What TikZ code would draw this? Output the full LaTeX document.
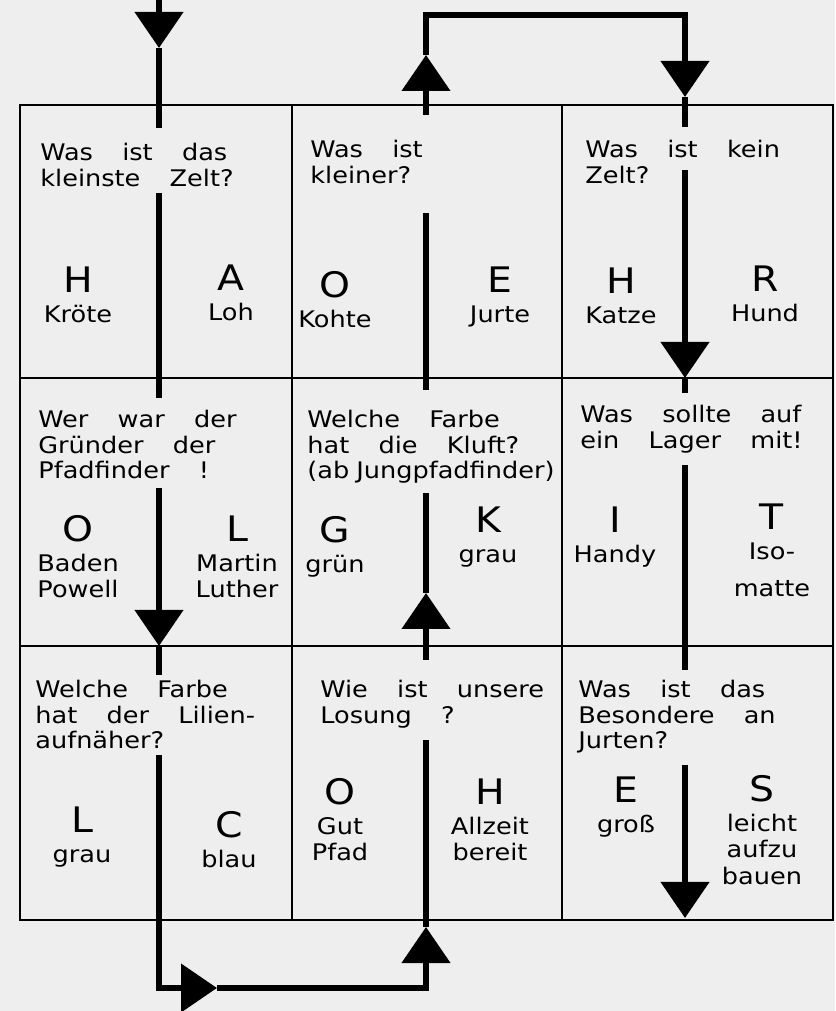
\documentclass[tikz,border=0pt]{standalone}
\usepackage{fontspec}
\setmainfont{DejaVu Sans}[WordSpace=3.6, FakeStretch=1.12]
\usetikzlibrary{arrows.meta}
\definecolor{paper}{RGB}{238,238,238}
\newcommand{\ansletter}[1]{{\fontsize{20}{22}\selectfont #1}}

\begin{document}
\begin{tikzpicture}[
    cellline/.style={draw, line width=1.2pt},
    trail/.style={line width=3.4pt, line join=miter},
    trailtip/.style={trail, -{Triangle[width=0.95cm,length=0.72cm]}},
    question/.style={anchor=north west, align=left, inner sep=0pt,
        font=\fontsize{13}{14.5}\selectfont},
    answer/.style={align=center, inner sep=0pt, font=\fontsize{13}{15}\selectfont}
]

% Paper
\fill[paper] (0,0) rectangle (16.7,20.22);
\useasboundingbox (0,0) rectangle (16.7,20.22);

% Grid of nine cells
\draw[cellline] (0.4,1.82) rectangle (16.66,18.12);
\draw[cellline] (5.84,1.82) -- (5.84,18.12);
\draw[cellline] (11.24,1.82) -- (11.24,18.12);
\draw[cellline] (0.4,12.66) -- (16.66,12.66);
\draw[cellline] (0.4,7.30) -- (16.66,7.30);

% Row 1
\node[question] (q11) at (0.8,17.36) {Was ist das\\kleinste Zelt?};
\node[answer] (a11h) at (1.56,14.32) {\ansletter{H}\\[2pt]Kröte};
\node[answer] (a11a) at (4.62,14.36) {\ansletter{A}\\[2pt]Loh};

\node[question] (q12) at (6.2,17.42) {Was ist\\kleiner?};
\node[answer] (a12o) at (6.7,14.22) {\ansletter{O}\\[2pt]Kohte};
\node[answer] (a12e) at (10.0,14.28) {\ansletter{E}\\[2pt]Jurte};

\node[question] (q13) at (11.7,17.42) {Was ist kein\\Zelt?};
\node[answer] (a13h) at (12.42,14.3) {\ansletter{H}\\[2pt]Katze};
\node[answer] (a13r) at (15.3,14.34) {\ansletter{R}\\[2pt]Hund};

% Row 2
\node[question] (q21) at (0.76,12.02) {Wer war der\\Gründer der\\Pfadfinder !};
\node[answer] (a21o) at (1.56,9.08) {\ansletter{O}\\[2pt]Baden\\Powell};
\node[answer] (a21l) at (4.74,9.08) {\ansletter{L}\\[2pt]Martin\\Luther};

\node[question] (q22) at (6.14,12.02) {Welche Farbe\\hat die Kluft?\\(ab\hspace{4pt}Jungpfadfinder)};
\node[answer] (a22g) at (6.7,9.28) {\ansletter{G}\\[2pt]grün};
\node[answer] (a22k) at (9.76,9.48) {\ansletter{K}\\[2pt]grau};

\node[question] (q23) at (11.6,12.12) {Was sollte auf\\ein Lager mit!};
\node[answer] (a23i) at (12.3,9.48) {\ansletter{I}\\[2pt]Handy};
\node[answer] (a23t) at (15.44,9.22) {\ansletter{T}\\[2pt]Iso-\\[6pt]matte};

% Row 3
\node[question] (q31) at (0.7,6.62) {Welche Farbe\\hat der Lilien-\\aufnäher?};
\node[answer] (a31l) at (1.64,3.48) {\ansletter{L}\\[2pt]grau};
\node[answer] (a31c) at (4.58,3.42) {\ansletter{C}\\[2pt]blau};

\node[question] (q32) at (6.4,6.62) {Wie ist unsere\\Losung ?};
\node[answer] (a32o) at (6.8,3.82) {\ansletter{O}\\[2pt]Gut\\Pfad};
\node[answer] (a32h) at (9.8,3.82) {\ansletter{H}\\[2pt]Allzeit\\bereit};

\node[question] (q33) at (11.56,6.62) {Was ist das\\Besondere an\\Jurten?};
\node[answer] (a33e) at (12.52,4.08) {\ansletter{E}\\[2pt]groß};
\node[answer] (a33s) at (15.24,3.62) {\ansletter{S}\\[2pt]leicht\\aufzu\\bauen};

% Left track, going down
\coordinate (inTop) at (3.18,20.22);
\coordinate (inTip) at (3.18,19.26);
\coordinate (inA) at (3.18,17.66);
\coordinate (inB) at (3.18,16.36);
\coordinate (inC) at (3.18,12.26);
\coordinate (inD) at (3.18,10.46);
\coordinate (inTipB) at (3.18,7.30);
\coordinate (inE) at (3.18,6.72);
\coordinate (inF) at (3.18,5.12);
\coordinate (cornerBL) at (3.18,0.46);
\coordinate (tipR) at (4.34,0.46);

% Middle track, going up
\coordinate (cornerBR) at (8.52,0.46);
\coordinate (tipU1) at (8.52,1.68);
\coordinate (midA) at (8.52,5.42);
\coordinate (midB) at (8.52,7.02);
\coordinate (tipU2) at (8.52,8.36);
\coordinate (midC) at (8.52,10.36);
\coordinate (midD) at (8.52,12.42);
\coordinate (midE) at (8.52,15.96);
\coordinate (midF) at (8.52,17.92);
\coordinate (tipU3) at (8.52,19.12);
\coordinate (cornerTL) at (8.52,19.92);

% Right track, going down
\coordinate (cornerTR) at (13.7,19.92);
\coordinate (tipD1) at (13.7,18.28);
\coordinate (rgtA) at (13.7,17.68);
\coordinate (rgtB) at (13.7,16.82);
\coordinate (tipD2) at (13.7,12.66);
\coordinate (rgtC) at (13.7,12.36);
\coordinate (rgtD) at (13.7,10.92);
\coordinate (rgtE) at (13.7,6.82);
\coordinate (rgtF) at (13.7,4.92);
\coordinate (outTip) at (13.7,1.86);

\draw[trailtip] (inTop) -- (inTip);
\draw[trail] (inTip) -- (inA);
\draw[trail] (inB) -- (inC);
\draw[trailtip] (inD) -- (inTipB);
\draw[trail] (inTipB) -- (inE);
\draw[trailtip] (inF) -- (cornerBL) -- (tipR);
\draw[trailtip] (tipR) -- (cornerBR) -- (tipU1);
\draw[trail] (tipU1) -- (midA);
\draw[trailtip] (midB) -- (tipU2);
\draw[trail] (tipU2) -- (midC);
\draw[trail] (midD) -- (midE);
\draw[trailtip] (midF) -- (tipU3);
\draw[trailtip] (tipU3) -- (cornerTL) -- (cornerTR) -- (tipD1);
\draw[trail] (tipD1) -- (rgtA);
\draw[trailtip] (rgtB) -- (tipD2);
\draw[trail] (tipD2) -- (rgtC);
\draw[trail] (rgtD) -- (rgtE);
\draw[trailtip] (rgtF) -- (outTip);

\end{tikzpicture}
\end{document}
